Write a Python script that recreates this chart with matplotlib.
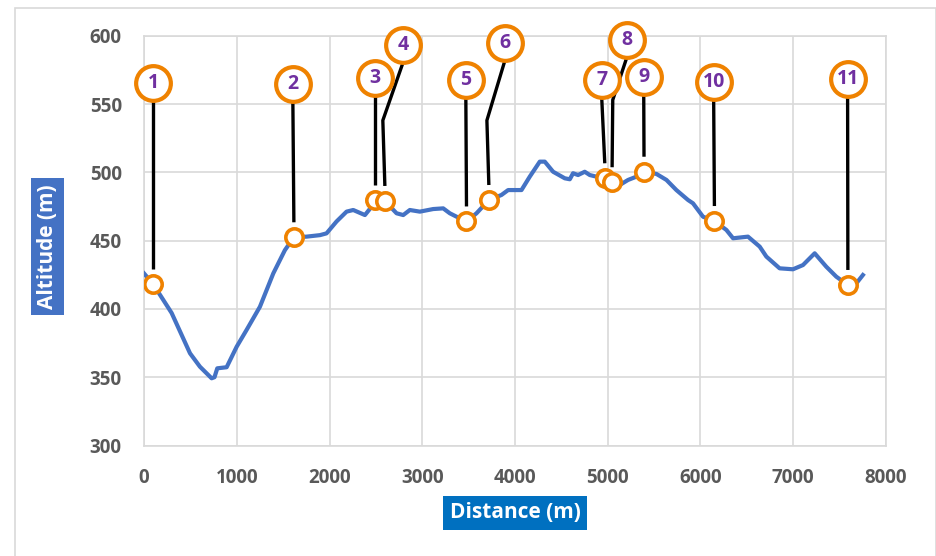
import numpy as np
import matplotlib.pyplot as plt
from matplotlib.patches import Rectangle

# altitude profile
dist = [0, 100, 298, 496, 603, 729, 760, 790, 891, 999, 1106, 1250, 1394, 1519,
        1616, 1753, 1897, 1968, 2076, 2184, 2256, 2382, 2454, 2489, 2597, 2723,
        2795, 2866, 2974, 3118, 3226, 3297, 3405, 3477, 3585, 3718, 3854, 3926,
        4070, 4159, 4267, 4321, 4411, 4537, 4591, 4626, 4680, 4752, 4806, 4878,
        4968, 5047, 5129, 5219, 5309, 5391, 5525, 5633, 5740, 5866, 5919, 6027,
        6150, 6279, 6351, 6512, 6638, 6710, 6853, 6997, 7105, 7231, 7356, 7464,
        7589, 7680, 7751]
alt = [426, 418, 397, 367.5, 357.7, 349.2, 350, 356.5, 357.3, 372.3, 384.6, 401.6,
       426, 443, 452.4, 452.9, 454, 455.3, 464, 471.2, 472.4, 468.7, 474.8, 479.7,
       479, 470, 468.7, 472.4, 471.2, 473.1, 473.6, 470, 466.3, 464, 470, 479.7,
       483.4, 487, 487, 496.8, 507.8, 507.8, 500.4, 495.6, 494.9, 499.3, 498,
       500.4, 498, 496.8, 495.6, 492.7, 490.7, 494.4, 496.8, 500.4, 498.8, 494.4,
       487, 479.7, 477.3, 467.5, 464.3, 457.8, 451.7, 452.9, 445.6, 438.3, 429.7,
       429, 432.1, 440.7, 430.9, 423.6, 417.5, 418.7, 424.8]

# numbered points
pt_num = ['1', '2', '3', '4', '5', '6', '7', '8', '9', '10', '11']
pt_d = [100, 1616, 2489, 2597, 3477, 3718, 4968, 5047, 5391, 6150, 7589]
pt_alt = [418, 452.4, 479.7, 479, 464, 479.7, 495.6, 492.7, 500.4, 464.3, 417.5]
lab_d = [100, 1605, 2489, 2791, 3470, 3890, 4935, 5205, 5388, 6142, 7586]
lab_alt = [565.4, 565, 569, 593, 567.6, 594.6, 567.6, 597, 569.8, 566, 568.3]
# kink in the leader line (None = straight)
bend_d = [None, None, None, 2575, None, 3697, None, 5054, None, None, None]
bend_alt = [None, None, None, 538, None, 538, None, 553, None, None, None]

blue = '#4472C4'
orange = '#EF8200'
purple = '#7030A0'
grey = '#595959'

plt.rcParams['font.family'] = ['Open Sans', 'DejaVu Sans']

fig = plt.figure(figsize=(9.37, 5.56), dpi=100)
ax = fig.add_axes([144/937, 1-445.5/556, 742/937, 409.8/556])

# frame around the whole picture
fig.patches.append(Rectangle((15/937, -0.05), 921/937, 1-8/556+0.05,
                             transform=fig.transFigure, fill=False,
                             edgecolor='#D9D9D9', lw=1.2))

ax.plot(dist, alt, color=blue, lw=3, zorder=3)

for i in range(len(pt_num)):
    xs = [lab_d[i]]
    ys = [lab_alt[i] - 13]
    if bend_d[i] is not None:
        xs.append(bend_d[i])
        ys.append(bend_alt[i])
    xs.append(pt_d[i])
    ys.append(pt_alt[i] + 11)
    ax.plot(xs, ys, color='black', lw=2.4, zorder=4, solid_capstyle='butt', clip_on=False)
    ax.plot(lab_d[i], lab_alt[i], 'o', ms=25, mfc='white', mec=orange, mew=3,
            zorder=5, clip_on=False)
    ax.text(lab_d[i], lab_alt[i], pt_num[i], color=purple, fontsize=14, fontweight='bold',
            ha='center', va='center', zorder=6, clip_on=False)

ax.plot(pt_d, pt_alt, 'o', ms=12.5, mfc='white', mec=orange, mew=2.6, zorder=5, ls='none')

ax.set_xlim(0, 8000)
ax.set_ylim(300, 600)
ax.set_xticks(np.arange(0, 8001, 1000))
ax.set_yticks(np.arange(300, 601, 50))
ax.grid(True, color='#D9D9D9', lw=1.2)
ax.set_axisbelow(True)
for s in ax.spines.values():
    s.set_color('#D9D9D9')
    s.set_linewidth(1.2)
ax.tick_params(length=0, pad=16, labelsize=13.5, labelcolor=grey)
for lbl in ax.get_xticklabels() + ax.get_yticklabels():
    lbl.set_fontweight('bold')

fig.text(47.5/937, 1-246.7/556, 'Altitude (m)', rotation=90, ha='center', va='center',
         color='white', fontsize=15, fontweight='bold',
         bbox=dict(boxstyle='square,pad=0.3', fc=blue, ec='none'))
fig.text(515/937, 1-513/556, 'Distance (m)', ha='center', va='center',
         color='white', fontsize=15, fontweight='bold',
         bbox=dict(boxstyle='square,pad=0.3', fc='#0070C0', ec='none'))

fig.savefig('out.png', dpi=100)
